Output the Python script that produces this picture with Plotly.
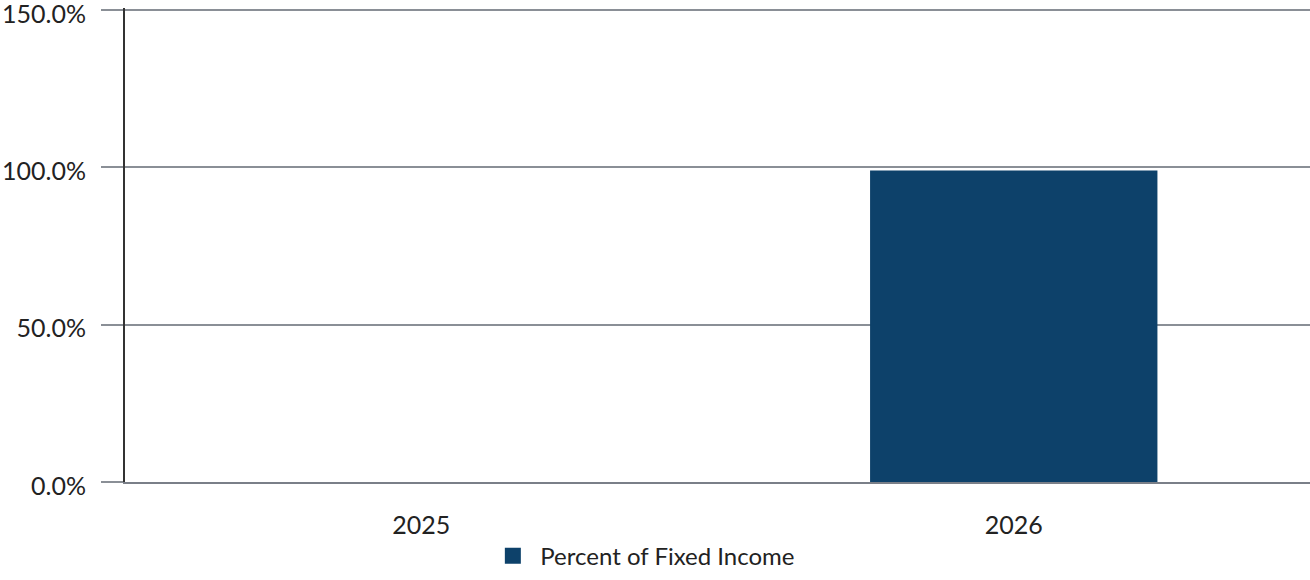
import plotly.graph_objects as go

years = ["2025", "2026"]
pct_fixed_income = [0.0, 99.0]
y_ticks = [0, 50, 100, 150]
y_tick_labels = ["0.0%", "50.0%", "100.0%", "150.0%"]
series_name = "Percent of Fixed Income"
bar_color = "#0d416a"

fig = go.Figure()
fig.add_trace(go.Bar(
    x=years, y=pct_fixed_income, name=series_name,
    marker=dict(color=bar_color, line=dict(width=0)),
    showlegend=False,
))
# legend proxy so the swatch is bigger than plotly's default bar swatch
fig.add_trace(go.Scatter(
    x=[None], y=[None], mode="markers", name=series_name,
    marker=dict(symbol="square", size=26, color=bar_color),
    showlegend=True,
))

fig.update_layout(
    width=1310, height=580,
    margin=dict(l=125, r=0, t=8, b=98),
    plot_bgcolor="white", paper_bgcolor="white",
    font=dict(family="Lato, Open Sans, sans-serif", size=25, color="#222222"),
    bargap=0.515,
    showlegend=True,
    legend=dict(orientation="h", x=0.437, xanchor="center",
                y=-0.204, yanchor="bottom", font=dict(size=24),
                itemsizing="trace", itemwidth=45),
)
fig.update_yaxes(
    range=[0, 150.6], tickvals=y_ticks, ticktext=y_tick_labels,
    showgrid=True, gridcolor="#8a8f96", gridwidth=1.5,
    ticks="outside", ticklen=22, tickcolor="#8a8f96", tickwidth=1.5,
    showline=True, linecolor="#333333", linewidth=2,
    zeroline=False, ticklabelstandoff=10, ticklabelshift=4,
    automargin=False, ticklabeloverflow="allow", tickfont=dict(size=25),
)
fig.update_xaxes(
    showline=True, linecolor="#7a7f88", linewidth=2,
    ticks="", showgrid=False, ticklabelstandoff=20, automargin=False,
)

# drop the default 8px body margin so the figure fills the window exactly
fig.write_html("out.html", config={"displayModeBar": False},
               post_script="document.body.style.margin='0';")
